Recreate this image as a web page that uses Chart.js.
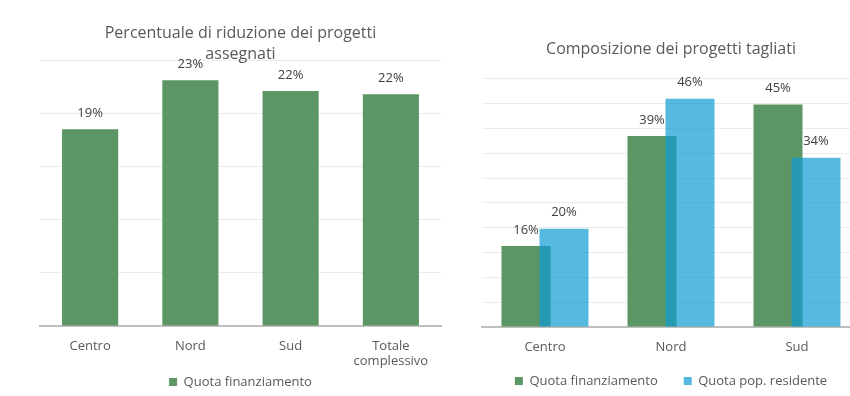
<!DOCTYPE html>
<html><head><meta charset="utf-8">
<script src="https://cdn.jsdelivr.net/npm/chart.js@4/dist/chart.umd.min.js"></script>
<style>
html,body{margin:0;padding:0;background:#fff;overflow:hidden;}
#wrap{position:relative;width:850px;height:396px;overflow:hidden;background:#fff;}
#c1{position:absolute;left:0;top:0;}
#c2{position:absolute;left:466px;top:0;}
</style></head><body>
<div id="wrap"><canvas id="c1" width="482" height="396"></canvas><canvas id="c2" width="410" height="396"></canvas></div>
<script>
// ---- data ----
const leftTitle = ['Percentuale di riduzione dei progetti', 'assegnati'];
const leftCategories = ['Centro', 'Nord', 'Sud', ['Totale', 'complessivo']];
const leftValues = [18.5, 23.1, 22.1, 21.8];

const rightTitle = 'Composizione dei progetti tagliati';
const rightCategories = ['Centro', 'Nord', 'Sud'];
const financeShare = [16.3, 38.5, 44.8];
const residentShare = [19.8, 46.0, 34.1];

const seriesNames = ['Quota finanziamento', 'Quota pop. residente'];

// ---- styles ----
const FONT = '"Open Sans", "Noto Sans", sans-serif';
const GREEN = '#5c9664';
const BLUE = 'rgba(14,155,211,0.7)';
const TEXT = '#595959';
Chart.defaults.font.family = FONT;
Chart.defaults.color = TEXT;

const valueLabels = {
  id: 'valueLabels',
  afterDraw(chart) {
    const ctx = chart.ctx;
    ctx.save();
    ctx.font = '13px ' + FONT;
    ctx.fillStyle = '#404040';
    ctx.textAlign = 'center';
    ctx.textBaseline = 'middle';
    chart.data.datasets.forEach((ds, i) => {
      const meta = chart.getDatasetMeta(i);
      meta.data.forEach((bar, j) => {
        ctx.fillText(Math.round(ds.data[j]) + '%', bar.x, bar.y - 16);
      });
    });
    ctx.restore();
  }
};

// draw datasets in index order so the later series overlaps the earlier one
const drawInIndexOrder = {
  id: 'drawInIndexOrder',
  beforeDatasetsDraw(chart) {
    chart.data.datasets.forEach((ds, i) => chart.getDatasetMeta(i).controller.draw());
    return false;
  }
};

// nudge the legend box (wide item spacing, but tight vertical placement)
const legendShift = {
  id: 'legendShift',
  afterLayout(chart, args, opts) {
    const d = opts.dy || 0;
    chart.legend.top += d;
    chart.legend.bottom += d;
  }
};

function baseScales(maxV, axisH) {
  return {
    x: {
      grid: { display: false, drawTicks: false },
      border: { color: '#bfbfbf', width: 2 },
      ticks: { padding: 12, color: TEXT, font: { size: 13 } },
      afterFit(s) { s.height = axisH; }
    },
    y: {
      min: 0, max: maxV,
      ticks: { display: false, stepSize: 5 },
      grid: { color: '#ececec', drawTicks: false },
      border: { display: false }
    }
  };
}

new Chart(document.getElementById('c1'), {
  type: 'bar',
  data: {
    labels: leftCategories,
    datasets: [{ label: seriesNames[0], data: leftValues, backgroundColor: GREEN,
      barPercentage: 0.56, categoryPercentage: 1 }]
  },
  options: {
    responsive: false, animation: false,
    layout: { padding: { left: 40, right: 41, top: 10, bottom: -2.5 } },
    plugins: {
      title: { display: true, text: leftTitle, color: TEXT, font: { size: 16, weight: 'normal', lineHeight: 1.3 },
        padding: { top: 13.5, bottom: -5 } },
      legend: { position: 'bottom', labels: { boxWidth: 8, boxHeight: 8, padding: 5.5, color: TEXT, font: { size: 13 } } },
      tooltip: { enabled: false }
    },
    scales: baseScales(25, 44)
  },
  plugins: [valueLabels]
});

new Chart(document.getElementById('c2'), {
  type: 'bar',
  data: {
    labels: rightCategories,
    datasets: [
      { label: seriesNames[0], data: financeShare, backgroundColor: GREEN, barPercentage: 1.29, categoryPercentage: 0.603 },
      { label: seriesNames[1], data: residentShare, backgroundColor: BLUE, barPercentage: 1.29, categoryPercentage: 0.603 }
    ]
  },
  options: {
    responsive: false, animation: false,
    layout: { padding: { left: 16, right: 16, top: 10, bottom: -8 } },
    plugins: {
      title: { display: true, text: rightTitle, color: TEXT, font: { size: 16, weight: 'normal', lineHeight: 1.3 },
        padding: { top: 29, bottom: 19 } },
      legend: { position: 'bottom', labels: { boxWidth: 8, boxHeight: 8, padding: 26, color: TEXT, font: { size: 13 } } },
      legendShift: { dy: -6.5 },
      tooltip: { enabled: false }
    },
    scales: baseScales(50, 28)
  },
  plugins: [drawInIndexOrder, valueLabels, legendShift]
});
</script>
</body></html>
